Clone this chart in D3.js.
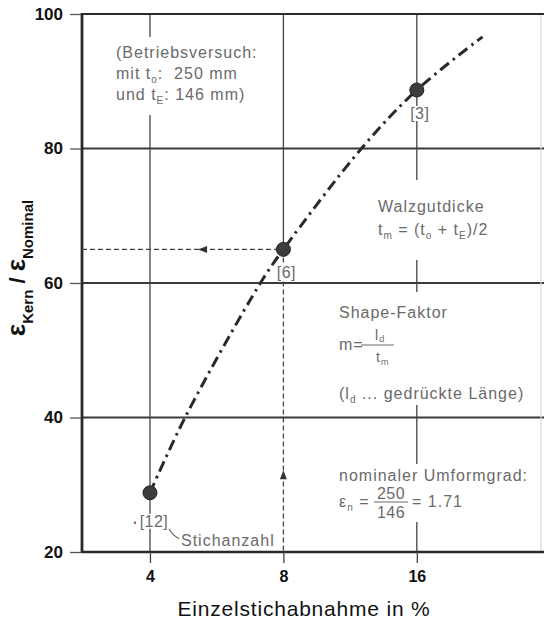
<!DOCTYPE html>
<html><head><meta charset="utf-8">
<script src="https://cdn.jsdelivr.net/npm/d3@7"></script>
<style>
html,body{margin:0;padding:0;background:#fff;}
svg{display:block;}
</style></head>
<body>
<script>
// ---- data ----
const xTicks = [4, 8, 16];
const yTicks = [20, 40, 60, 80, 100];
const pointX = [4, 8, 16];
const pointY = [28.8, 65, 88.7];
const pointLabels = ["[12]", "[6]", "[3]"];
const curveX = [4, 4.8, 7.1, 8, 12, 16, 22.5];
const curveY = [28.8, 40, 60, 65, 80, 88.7, 96.6];
const refValueY = 65;      // dashed horizontal read-off
const refValueX = 8;       // dashed vertical read-off
const arrowAtX = 5.27;     // arrow on horizontal read-off line
const arrowAtY = 31.4;     // arrow on vertical read-off line
const xTitle = "Einzelstichabnahme in %";

const W = 544, H = 624;
const svg = d3.select("body").append("svg").attr("width", W).attr("height", H);
svg.append("rect").attr("width", W).attr("height", H).attr("fill", "#fff");

const L = 82, R = 541, T = 14, B = 552;
const x = d3.scaleLog().base(2).domain([2.81, 30.5]).range([L, R]);
const y = d3.scaleLinear().domain([20, 100]).range([B, T]);

const annFont = "'Liberation Sans', Arial, Helvetica, sans-serif";
const grey = "#6a6a6a";

// horizontal gridlines
svg.append("g").selectAll("line").data(yTicks.filter(d => d > 20 && d < 100)).join("line")
  .attr("x1", L).attr("x2", W).attr("y1", d => y(d)).attr("y2", d => y(d))
  .attr("stroke", "#3a3a3a").attr("stroke-width", 2);

// vertical gridlines (8 is solid only above the read-off point)
svg.append("g").selectAll("line").data(xTicks).join("line")
  .attr("x1", d => x(d)).attr("x2", d => x(d))
  .attr("y1", T).attr("y2", d => d === refValueX ? y(refValueY) : B)
  .attr("stroke", "#444").attr("stroke-width", 1.3);

// white patches behind annotation blocks (gridline gaps)
const gaps = [[105, 37, 160, 78], [372, 180, 120, 80], [335, 292, 195, 113], [335, 464, 200, 58]];
svg.append("g").selectAll("rect").data(gaps).join("rect")
  .attr("x", d => d[0]).attr("y", d => d[1]).attr("width", d => d[2]).attr("height", d => d[3])
  .attr("fill", "#fff");

// frame
svg.append("line").attr("x1", R).attr("x2", R).attr("y1", T).attr("y2", B)
  .attr("stroke", "#d8d8d8").attr("stroke-width", 1.2);
svg.append("line").attr("x1", L).attr("x2", W).attr("y1", T).attr("y2", T)
  .attr("stroke", "#2a2a2a").attr("stroke-width", 2.2);
svg.append("line").attr("x1", L).attr("x2", W).attr("y1", B).attr("y2", B)
  .attr("stroke", "#2a2a2a").attr("stroke-width", 2.6);
svg.append("line").attr("x1", L).attr("x2", L).attr("y1", T - 1).attr("y2", B + 1)
  .attr("stroke", "#2a2a2a").attr("stroke-width", 2.8);

// y axis
const yAxis = d3.axisLeft(y).tickValues(yTicks).tickSize(11).tickPadding(7).tickFormat(d3.format("d"));
const gy = svg.append("g").attr("transform", `translate(${L - 1},0)`).call(yAxis);
gy.select(".domain").remove();
gy.selectAll(".tick line").attr("stroke", "#555").attr("stroke-width", 1.3);
gy.selectAll(".tick text").attr("font-family", annFont).attr("font-weight", "bold")
  .attr("font-size", 17).attr("fill", "#111");

// x axis
const xAxis = d3.axisBottom(x).tickValues(xTicks).tickSize(11).tickPadding(8).tickFormat(d3.format("d"));
const gx = svg.append("g").attr("transform", `translate(0,${B})`).call(xAxis);
gx.select(".domain").remove();
gx.selectAll(".tick line").attr("stroke", "#444").attr("stroke-width", 1.3);
gx.selectAll(".tick text").attr("font-family", annFont).attr("font-weight", "bold")
  .attr("font-size", 16).attr("fill", "#111");

// read-off dashed lines
svg.append("line").attr("x1", L).attr("x2", x(refValueX)).attr("y1", y(refValueY)).attr("y2", y(refValueY))
  .attr("stroke", "#444").attr("stroke-width", 1.3).attr("stroke-dasharray", "5,3");
svg.append("line").attr("x1", x(refValueX)).attr("x2", x(refValueX)).attr("y1", y(refValueY)).attr("y2", B)
  .attr("stroke", "#444").attr("stroke-width", 1.3).attr("stroke-dasharray", "5,3");
// arrows
const ax = x(arrowAtX), ay = y(refValueY);
svg.append("path").attr("d", `M${ax - 5},${ay} L${ax + 4},${ay - 3.5} L${ax + 4},${ay + 3.5} Z`).attr("fill", "#333");
const bx = x(refValueX), by = y(arrowAtY);
svg.append("path").attr("d", `M${bx},${by - 5} L${bx - 3.5},${by + 4} L${bx + 3.5},${by + 4} Z`).attr("fill", "#333");

// dash-dot curve
const curveData = curveX.map((d, i) => [d, curveY[i]]);
const line = d3.line().x(d => x(d[0])).y(d => y(d[1])).curve(d3.curveCatmullRom.alpha(0.5));
svg.append("path").attr("d", line(curveData)).attr("fill", "none")
  .attr("stroke", "#2a2a2a").attr("stroke-width", 3).attr("stroke-linecap", "butt")
  .attr("stroke-dasharray", "11,5,2.5,5");

// points
const pts = pointX.map((d, i) => ({x: d, y: pointY[i], label: pointLabels[i]}));
svg.append("g").selectAll("circle").data(pts).join("circle")
  .attr("cx", d => x(d.x)).attr("cy", d => y(d.y)).attr("r", 7)
  .attr("fill", "#3c3c3c").attr("stroke", "#222").attr("stroke-width", 1);
const labG = svg.append("g");
const labs = labG.selectAll("text").data(pts).join("text")
  .attr("x", d => x(d.x) + (d.x === 4 ? 4 : 3)).attr("y", d => y(d.y) + (d.x === 4 ? 34 : 29))
  .attr("text-anchor", "middle").attr("font-family", annFont).attr("font-size", 16)
  .attr("letter-spacing", 0.5).attr("fill", grey).text(d => d.label);
labs.each(function () {
  const b = this.getBBox();
  labG.insert("rect", "text").attr("x", b.x - 1).attr("y", b.y + 1).attr("width", b.width + 2)
    .attr("height", b.height - 2).attr("fill", "#fff");
});

// "Stichanzahl" leader
const p12x = x(4), p12y = y(28.8);
svg.append("path").attr("d", `M${p12x + 19},${p12y + 36} Q${p12x + 22},${p12y + 42} ${p12x + 29},${p12y + 46}`)
  .attr("fill", "none").attr("stroke", grey).attr("stroke-width", 1.2);
svg.append("circle").attr("cx", p12x - 15).attr("cy", p12y + 30).attr("r", 1.3).attr("fill", grey);
svg.append("text").attr("x", p12x + 31).attr("y", p12y + 53).attr("font-family", annFont)
  .attr("font-size", 16).attr("letter-spacing", 1).attr("fill", grey).text("Stichanzahl");

// annotation helper
function ann(xp, yp, parts, size) {
  const t = svg.append("text").attr("x", xp).attr("y", yp).attr("font-family", annFont)
    .attr("font-size", size || 16).attr("letter-spacing", 1).attr("fill", grey);
  parts.forEach(p => {
    if (typeof p === "string") t.append("tspan").text(p);
    else t.append("tspan").attr("dy", p.dy).attr("font-size", p.size || 10).text(p.t);
  });
  return t;
}

ann(116, 58, ["(Betriebsversuch:"]);
ann(116, 79, ["mit t", {t: "o", dy: 4, size: 10}, {t: ":  250 mm", dy: -4, size: 16}]).style("white-space", "pre");
ann(116, 100, ["und t", {t: "E", dy: 4, size: 10}, {t: ": 146 mm)", dy: -4, size: 16}]);

ann(378, 212, ["Walzgutdicke"]);
ann(378, 235, ["t", {t: "m", dy: 4, size: 10}, {t: " = (t", dy: -4, size: 16}, {t: "o", dy: 4, size: 10},
  {t: " + t", dy: -4, size: 16}, {t: "E", dy: 4, size: 10}, {t: ")/2", dy: -4, size: 16}]);

ann(339, 318, ["Shape-Faktor"]);
ann(339, 350, ["m="]);
svg.append("line").attr("x1", 361).attr("x2", 394).attr("y1", 345).attr("y2", 345).attr("stroke", grey).attr("stroke-width", 1);
ann(375, 340, ["l", {t: "d", dy: 2, size: 9}], 14);
ann(376, 362, ["t", {t: "m", dy: 3, size: 9}], 14);
ann(339, 399, ["(l", {t: "d", dy: 4, size: 10}, {t: " ... gedrückte Länge)", dy: -4, size: 16}]);

ann(339, 481, ["nominaler Umformgrad:"]);
ann(339, 507, ["ε", {t: "n", dy: 4, size: 10}, {t: " =", dy: -4, size: 16}]);
svg.append("line").attr("x1", 374).attr("x2", 408).attr("y1", 502).attr("y2", 502).attr("stroke", grey).attr("stroke-width", 1.2);
ann(391, 499, ["250"]).attr("text-anchor", "middle").attr("letter-spacing", 0.5);
ann(391, 518, ["146"]).attr("text-anchor", "middle").attr("letter-spacing", 0.5);
ann(412, 507, ["= 1.71"]);

// axis titles
svg.append("text").attr("x", 304).attr("y", 616).attr("text-anchor", "middle")
  .attr("font-family", annFont).attr("font-size", 21).attr("letter-spacing", 0.8)
  .attr("fill", "#111").text(xTitle);

const yt = svg.append("text").attr("transform", "translate(25,268) rotate(-90)")
  .attr("text-anchor", "middle").attr("font-family", annFont).attr("font-weight", "bold")
  .attr("font-size", 26).attr("fill", "#111").style("white-space", "pre");
yt.append("tspan").text("ε");
yt.append("tspan").attr("dy", 8).attr("font-size", 15).text("Kern");
yt.append("tspan").attr("dy", -8).attr("font-size", 22).text(" / ");
yt.append("tspan").attr("font-size", 26).text("ε");
yt.append("tspan").attr("dy", 8).attr("font-size", 15).text("Nominal");
</script>
</body></html>
